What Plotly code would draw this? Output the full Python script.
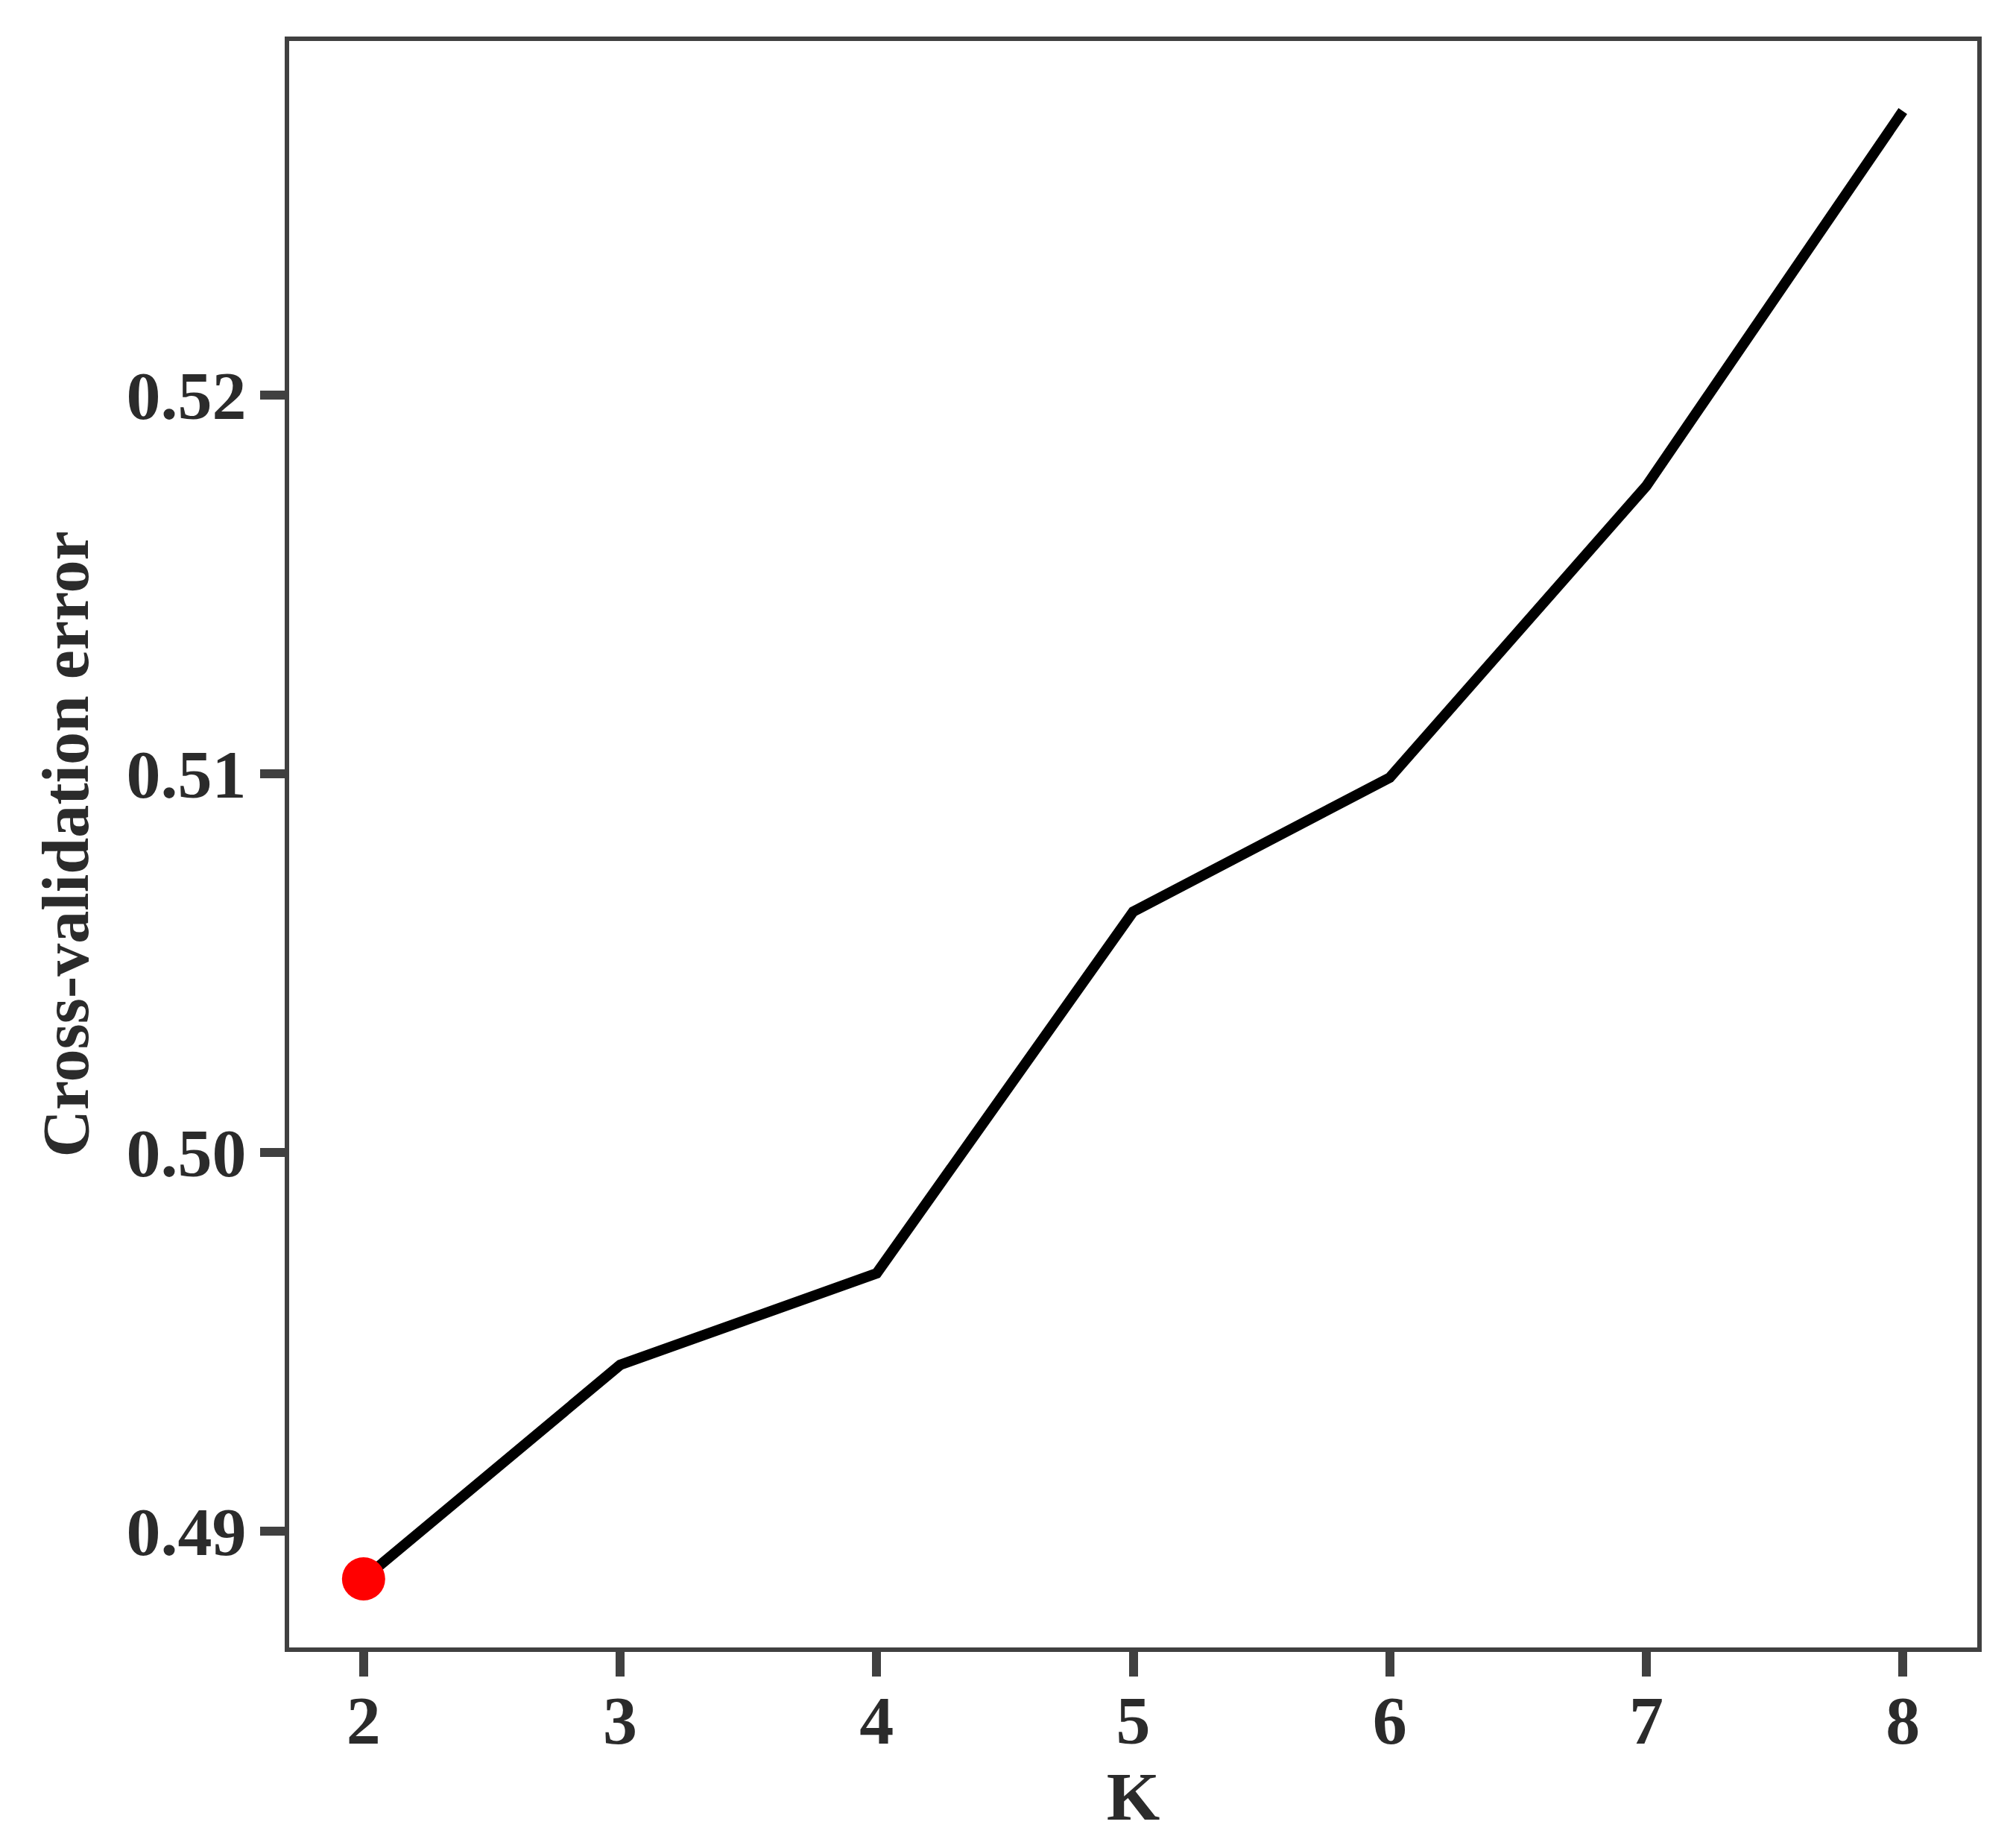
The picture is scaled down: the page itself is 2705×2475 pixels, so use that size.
import plotly.graph_objects as go

k_values = [2, 3, 4, 5, 6, 7, 8]
cv_error = [0.48874, 0.49439, 0.49681, 0.50636, 0.50990, 0.51760, 0.52750]
best_k = [2]
best_err = [0.48874]

x_ticks = [2, 3, 4, 5, 6, 7, 8]
y_ticks = [0.49, 0.50, 0.51, 0.52]
y_tick_text = ["0.49", "0.50", "0.51", "0.52"]

FONT = "Liberation Serif"
AXC = "#404040"
TXT = "#2b2b2b"
FS = 92

fig = go.Figure()
fig.add_trace(go.Scatter(x=k_values, y=cv_error, mode="lines",
                         line=dict(color="black", width=14), showlegend=False))
fig.add_trace(go.Scatter(x=best_k, y=best_err, mode="markers",
                         marker=dict(color="red", size=58, line=dict(width=0)),
                         showlegend=False))

fig.update_layout(
    width=2705, height=2475,
    margin=dict(l=388, r=52, t=55, b=265),
    paper_bgcolor="white", plot_bgcolor="white",
    font=dict(family=FONT, size=FS, color=TXT),
)
fig.update_xaxes(
    range=[1.71, 8.29], tickvals=x_ticks, ticktext=[str(v) for v in x_ticks],
    showgrid=False, zeroline=False,
    showline=True, linecolor=AXC, linewidth=6, mirror=True,
    ticks="outside", ticklen=33, tickwidth=12, tickcolor=AXC,
    ticklabelstandoff=-20,
    tickfont=dict(family=FONT, size=FS, color=TXT, weight="bold"),
    title=dict(text="<b>K</b>", font=dict(family=FONT, size=FS, color=TXT), standoff=20),
)
fig.update_yaxes(
    range=[0.48693, 0.52935], tickvals=y_ticks, ticktext=y_tick_text,
    showgrid=False, zeroline=False,
    showline=True, linecolor=AXC, linewidth=6, mirror=True,
    ticks="outside", ticklen=33, tickwidth=12, tickcolor=AXC,
    ticklabelstandoff=0,
    tickfont=dict(family=FONT, size=FS, color=TXT, weight="bold"),
    title=dict(text="<b>Cross-validation error</b>", font=dict(family=FONT, size=88, color=TXT), standoff=24),
)

fig.write_html(
    "out.html",
    config={"displayModeBar": False},
    post_script="document.body.style.margin='0';document.body.style.padding='0';document.body.style.overflow='hidden';",
)
